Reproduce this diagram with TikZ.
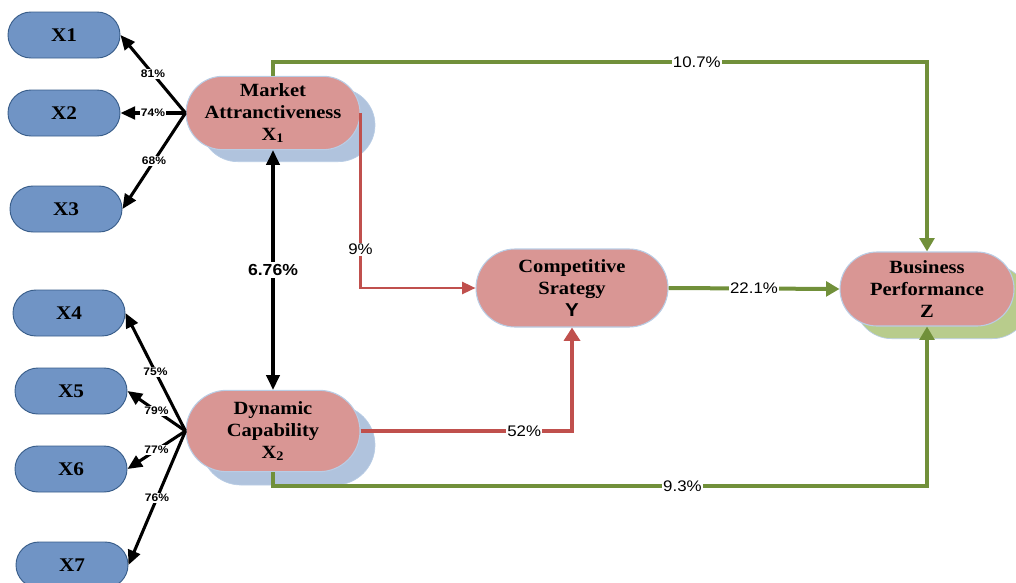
\documentclass[tikz,border=0pt]{standalone}
\usepackage{fontspec}
\setmainfont{Liberation Serif}[FakeStretch=1.1]
\setsansfont{Liberation Sans}[FakeStretch=1.1]
\usetikzlibrary{arrows.meta,shapes.misc}
\definecolor{pinkf}{HTML}{D99694}
\definecolor{pinkb}{HTML}{B9CDE5}
\definecolor{shblue}{HTML}{B0C3DD}
\definecolor{shgreen}{HTML}{B8CC8C}
\definecolor{xblue}{HTML}{7094C5}
\definecolor{xbord}{HTML}{385D8A}
\definecolor{gline}{HTML}{71903A}
\definecolor{rline}{HTML}{C0504D}
\begin{document}
\begin{tikzpicture}[x=0.75pt,y=-0.75pt,
  pill/.style={rounded rectangle, draw=pinkb, line width=0.8pt, fill=pinkf, inner sep=0pt, align=center,
    font=\fontsize{14}{16.5}\selectfont\bfseries},
  shad/.style={rounded rectangle, draw=pinkb, line width=0.5pt, inner sep=0pt},
  xbox/.style={rounded rectangle, draw=xbord, line width=0.7pt, fill=xblue, minimum width=84pt,
    minimum height=34.5pt, inner sep=0pt, font=\fontsize{14.5}{16}\selectfont\bfseries},
  blk/.style={line width=2.3pt, -{Triangle[length=11pt,width=9.5pt]}},
  grn/.style={draw=gline, line width=3pt, -{Triangle[length=10pt,width=11pt]}},
  redthin/.style={draw=rline, line width=1.8pt, -{Triangle[length=10pt,width=9pt]}},
  redthick/.style={draw=rline, line width=3pt, -{Triangle[length=10pt,width=12pt]}},
  lbl/.style={fill=white, inner sep=1pt, font=\sffamily\fontsize{11.5}{12}\selectfont},
  slbl/.style={fill=white, inner sep=0.6pt, font=\sffamily\bfseries\fontsize{8.2}{9}\selectfont},
  blbl/.style={fill=white, inner sep=1.5pt, font=\sffamily\bfseries\fontsize{12}{13}\selectfont}
]
\useasboundingbox (0,0) rectangle (1016,582);
\clip (0,0) rectangle (1016,582);
% shadows
\node[shad, fill=shblue, minimum width=130.5pt, minimum height=55pt] (MAs) at (288,125) {};
\node[shad, fill=shblue, minimum width=130.5pt, minimum height=60pt] (DCs) at (288,445) {};
\node[shad, fill=shgreen, minimum width=130.5pt, minimum height=55pt] (BPs) at (942,302) {};
% main nodes
\node[pill, minimum width=130.5pt, minimum height=55pt] (MA) at (273,113) {Market\\Attranctiveness\\X\textsubscript{1}};
\node[pill, minimum width=130.5pt, minimum height=61pt] (DC) at (273,431) {Dynamic\\Capability\\X\textsubscript{2}};
\node[pill, minimum width=144pt, minimum height=58.5pt] (CS) at (572,288) {Competitive\\Srategy\\{\sffamily Y}};
\node[pill, minimum width=130.5pt, minimum height=55.5pt] (BP) at (927,289) {Business\\Performance\\Z};
% indicator nodes
\node[xbox] (X1) at (64,35) {X1};
\node[xbox] (X2) at (64,113) {X2};
\node[xbox] (X3) at (66,209) {X3};
\node[xbox] (X4) at (69,313) {X4};
\node[xbox] (X5) at (71,391) {X5};
\node[xbox] (X6) at (71,469) {X6};
\node[xbox] (X7) at (72,565) {X7};
% loadings
\draw[blk] (MA.west) -- node[slbl] {81\%} (X1.east);
\draw[blk] (MA.west) -- node[slbl] {74\%} (X2.east);
\draw[blk] (MA.west) -- node[slbl] {68\%} (X3.east);
\draw[blk] (DC.west) -- node[slbl] {75\%} (X4.east);
\draw[blk] (DC.west) -- node[slbl] {79\%} (X5.east);
\draw[blk] (DC.west) -- node[slbl] {77\%} (X6.east);
\draw[blk] (DC.west) -- node[slbl] {76\%} (X7.east);
% correlation
\draw[line width=2.3pt, {Triangle[length=11pt,width=10pt]}-{Triangle[length=11pt,width=10pt]}] (MA.south) -- node[blbl] {6.76\%} (DC.north);
% paths
\draw[grn] (MA.north) -- ++(0,-14) -| node[lbl, pos=0.324] {10.7\%} (BP.north);
\draw[redthin] (MA.east) |- node[lbl, pos=0.39] {9\%} (CS.west);
\draw[redthick] (DC.east) -| node[lbl, pos=0.387] {52\%} (CS.south);
\draw[grn] (CS.east) -- node[lbl] {22.1\%} (BP.west);
\draw[grn] (DC.south) -- ++(0,14) -| node[lbl, pos=0.313] {9.3\%} (BP.south);
\end{tikzpicture}
\end{document}
